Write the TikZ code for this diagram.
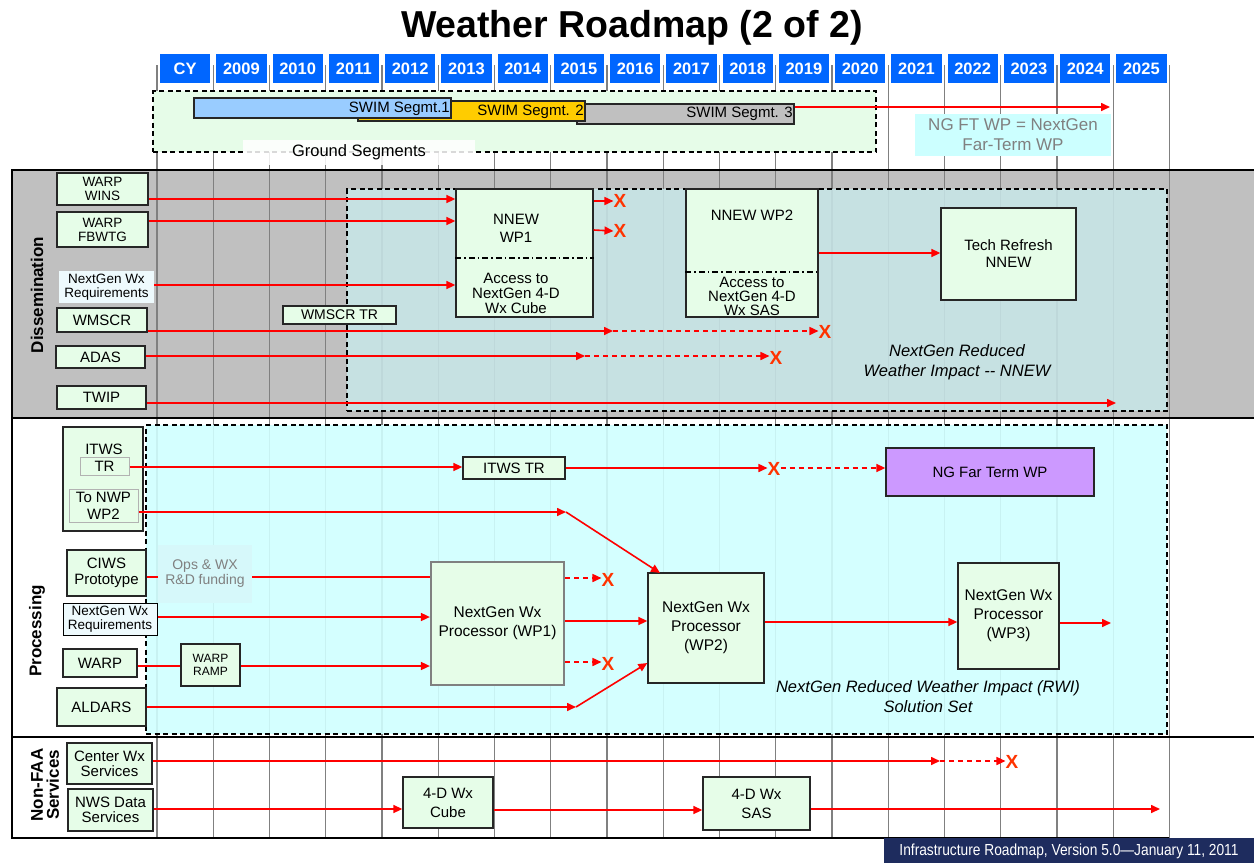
\documentclass[tikz,border=0pt]{standalone}
\usepackage{fontspec}
\setmainfont{Liberation Sans}
\newfontfamily\narrowfont[FakeStretch=0.86]{Liberation Sans}
\usetikzlibrary{arrows.meta}
\definecolor{hdrblue}{RGB}{0,102,255}
\definecolor{bandgray}{RGB}{192,192,192}
\definecolor{gridgray}{RGB}{128,128,128}
\definecolor{boxgreen}{RGB}{230,253,232}
\definecolor{swimgreen}{RGB}{230,252,232}
\definecolor{reqwhite}{RGB}{238,250,253}
\definecolor{segblue}{RGB}{153,204,255}
\definecolor{segyellow}{RGB}{255,204,0}
\definecolor{seggray}{RGB}{192,192,192}
\definecolor{notecyan}{RGB}{204,255,255}
\definecolor{nnewteal}{RGB}{200,230,232}
\definecolor{proccyan}{RGB}{208,255,255}
\definecolor{opscyan}{RGB}{214,248,250}
\definecolor{farpurple}{RGB}{204,153,255}
\definecolor{navy}{RGB}{30,44,94}
\definecolor{arrred}{RGB}{255,0,0}
\definecolor{xred}{RGB}{255,51,0}
\definecolor{textgray}{RGB}{128,128,128}
\newcommand{\rbox}[7][]{\node[#1, minimum width={(#4-#2)*1pt}, minimum height={(#5-#3)*1pt}] (#6) at ({(#2+#4)/2},{(#3+#5)/2}) {#7};}
\begin{document}
\begin{tikzpicture}[x=1pt,y=-1pt,
  gbox/.style={draw=black!85, line width=1.3pt, fill=boxgreen, inner sep=1pt, align=center, font=\fontsize{15}{16}\selectfont},
  fsmall/.style={font=\fontsize{13.5}{13.5}\selectfont},
  fmid/.style={font=\fontsize{15}{16}\selectfont, align=center},
  hdr/.style={fill=hdrblue, text=white, font=\bfseries\fontsize{16.5}{16.5}\selectfont, inner sep=0},
  arr/.style={draw=arrred, line width=1.6pt, -{Triangle[length=9pt,width=8pt]}},
  darr/.style={arr, dash pattern=on 5pt off 4pt},
  redline/.style={draw=arrred, line width=1.6pt},
  xm/.style={text=xred, font=\bfseries\fontsize{19}{19}\selectfont, inner sep=0},
  itl/.style={font=\itshape\fontsize{16.5}{20}\selectfont, align=center},
  sect/.style={rotate=90, font=\bfseries\fontsize{17}{16}\selectfont, align=center},
  gridline/.style={draw=gridgray, line width=1.3pt},
  dashbox/.style={draw=black, line width=1.3pt, dash pattern=on 5pt off 3.5pt},
  frame/.style={draw=black, line width=2pt},
  divider/.style={draw=black, line width=1.2pt, dash pattern=on 6pt off 3pt on 1.5pt off 3pt}
]
\useasboundingbox (0,0) rectangle (1254,863);
\fill[white] (0,0) rectangle (1254,863);

% title
\node[font=\bfseries\fontsize{37.5}{37.5}\selectfont] (title) at (632,28) {Weather Roadmap (2 of 2)};

% dissemination band
\fill[bandgray] (12,170) rectangle (1254,418);

% grid lines
\foreach \k in {0,...,18} {
  \draw[gridline] ({157+56.25*\k},65) -- ({157+56.25*\k},838);
}

% header
\foreach \lab [count=\k from 0] in {CY,2009,2010,2011,2012,2013,2014,2015,2016,2017,2018,2019,2020,2021,2022,2023,2024,2025} {
  \node[hdr, minimum width=50.25pt, minimum height=29pt] (hd\k) at ({157+56.25*\k+28.125},68.5) {\lab};
}

% SWIM area
\rbox[dashbox, fill=swimgreen]{153}{91}{876}{152}{swimbox}{}
\rbox[draw=black!85, line width=1.2pt, fill=seggray]{577}{104}{794}{124}{seg3}{}
\node[anchor=east, font=\fontsize{15}{15}\selectfont, inner sep=1pt] (seg3t) at (794,114) {SWIM Segmt. 3};
\rbox[draw=black!85, line width=1.2pt, fill=segyellow]{358}{101}{585}{121}{seg2}{}
\node[anchor=east, font=\fontsize{15}{15}\selectfont, inner sep=1pt] (seg2t) at (585,111.5) {SWIM Segmt. 2};
\rbox[draw=black!85, line width=1.2pt, fill=segblue]{194}{98}{451}{118}{seg1}{}
\node[anchor=east, font=\fontsize{15}{15}\selectfont, inner sep=1pt] (seg1t) at (451,108.5) {SWIM Segmt.1};
\coordinate (sw1) at (1110,107);
\draw[arr] (seg3.east |- 0,107) -- (sw1);
\rbox[fill=white, fill opacity=0.85, text opacity=1, font=\fontsize{16.5}{16.5}\selectfont]{243}{140}{475}{165}{gseg}{Ground Segments}
\rbox[fill=notecyan, text=textgray, align=center, font=\fontsize{17}{20}\selectfont, inner sep=0]{915}{114}{1111}{156}{ngnote}{NG FT WP = NextGen\\Far-Term WP}

% NNEW and processing regions
\rbox[dashbox, fill=nnewteal, fill opacity=0.87]{347}{189}{1167}{411}{nnewbox}{}
\rbox[dashbox, fill=proccyan, fill opacity=0.9]{146}{425}{1167}{734}{procbox}{}

% frame lines
\draw[frame] (12,170) -- (1254,170);
\draw[frame] (12,418) -- (1254,418);
\draw[frame] (12,737) -- (1254,737);
\draw[frame] (12,838) -- (1169,838);
\draw[frame] (12,169) -- (12,839);

% section labels
\node[sect] (lbldiss) at (37,295) {Dissemination};
\node[sect] (lblproc) at (37,631) {Processing};
\node[sect] (lblnon) at (45,785) {Non-FAA\\Services};

% ---------- Dissemination ----------
\rbox[gbox, fsmall, align=center]{57}{173}{148}{205}{wins}{WARP\\WINS}
\rbox[gbox, font=\fontsize{13.5}{14}\selectfont]{57}{212}{148}{247}{fbwtg}{WARP\\FBWTG}
\rbox[fill=reqwhite, inner sep=0, align=center, font=\fontsize{13.5}{13.5}\selectfont]{59}{271}{154}{303}{req1}{NextGen Wx\\Requirements}
\rbox[gbox]{57}{308}{147}{332}{wmscr}{WMSCR}
\rbox[gbox]{56}{346}{145}{368}{adas}{ADAS}
\rbox[gbox]{57}{386}{146}{409}{twip}{TWIP}
\rbox[gbox, line width=1.1pt, font=\fontsize{14}{14}\selectfont]{283}{306}{396}{324}{wmscrtr}{WMSCR TR}

\rbox[gbox]{456}{189}{593}{317}{wp1}{}
\draw[divider] (wp1.west |- 0,258) -- (wp1.east |- 0,258);
\node[fmid, font=\fontsize{15}{18}\selectfont] (wp1top) at (516,228) {NNEW\\WP1};
\node[fmid, font=\fontsize{15}{15}\selectfont] (wp1bot) at (516,293) {Access to\\NextGen 4-D\\Wx Cube};

\rbox[gbox]{686}{189}{818}{317}{wp2}{}
\draw[divider] (wp2.west |- 0,272) -- (wp2.east |- 0,272);
\node[fmid] (wp2top) at (752,215) {NNEW WP2};
\node[fmid, font=\fontsize{15}{14}\selectfont] (wp2bot) at (752,296) {Access to\\NextGen 4-D\\Wx SAS};

\rbox[gbox, font=\fontsize{15}{17}\selectfont]{941}{208}{1076}{300}{tech}{Tech Refresh\\NNEW}
\node[itl] (nnewlbl) at (957,362) {NextGen Reduced\\Weather Impact -{}- NNEW};

\node[xm] (xa) at (620,201) {X};
\node[xm] (xb) at (620,231) {X};
\node[xm] (xc) at (825,332) {X};
\node[xm] (xd) at (776,358) {X};
\coordinate (m1) at (613,331);
\coordinate (a1) at (585,356);
\coordinate (t1) at (1116,403);

\draw[arr] (wins.east |- 0,199) -- (wp1.west |- 0,199);
\draw[arr] (fbwtg.east |- 0,221) -- (wp1.west |- 0,221);
\draw[arr] (req1.east |- 0,285) -- (wp1.west |- 0,285);
\draw[arr] (wp1.east |- 0,201) -- (xa.west);
\draw[arr] (wp1.east |- 0,230) -- (xb.west);
\draw[arr] (wmscr.east |- 0,331) -- (m1);
\draw[darr] (m1) -- (xc.west |- m1);
\draw[arr] (adas.east |- 0,356) -- (a1);
\draw[darr] (a1) -- (xd.west |- a1);
\draw[arr] (twip.east |- 0,403) -- (t1);
\draw[arr] (wp2.east |- 0,253) -- (tech.west |- 0,253);

% ---------- Processing ----------
\rbox[gbox]{63}{427}{143}{531}{itws}{}
\node[fmid] (itwslbl) at (104,449) {ITWS};
\rbox[gbox, draw=black!30, line width=1pt]{80}{457}{129}{475}{tr}{TR}
\rbox[gbox, draw=black!30, line width=1pt, font=\fontsize{15}{17}\selectfont]{69}{489}{138}{522}{nwp}{To NWP\\WP2}
\rbox[gbox]{67}{550}{146}{596}{ciws}{CIWS\\Prototype}
\rbox[fill=opscyan, text=textgray, inner sep=0, align=center, font=\fontsize{14}{15}\selectfont]{158}{545}{252}{603}{ops}{Ops \& WX\\R\&D funding}
\rbox[draw=black, line width=1pt, fill=reqwhite, inner sep=0, align=center, font=\fontsize{13.5}{13.5}\selectfont]{63}{603}{157}{635}{req2}{NextGen Wx\\Requirements}
\rbox[gbox]{63}{649}{137}{677}{warp}{WARP}
\rbox[gbox, font=\fontsize{12}{13}\selectfont]{181}{644}{240}{686}{ramp}{WARP\\RAMP}
\rbox[gbox]{57}{688}{146}{726}{aldars}{ALDARS}
\rbox[gbox]{463}{457}{565}{479}{itwstr}{ITWS TR}
\rbox[gbox, fill=farpurple]{886}{448}{1094}{496}{farterm}{NG Far Term WP}
\rbox[gbox, draw=gridgray, line width=2.2pt, font=\fontsize{15.5}{19}\selectfont]{431}{562}{564}{685}{wp1p}{NextGen Wx\\Processor (WP1)}
\rbox[gbox, font=\fontsize{15.5}{19}\selectfont]{648}{573}{764}{683}{wp2p}{NextGen Wx\\Processor\\(WP2)}
\rbox[gbox, font=\fontsize{15.5}{19}\selectfont]{958}{563}{1059}{669}{wp3p}{NextGen Wx\\Processor\\(WP3)}
\node[itl] (rwilbl) at (928,697) {NextGen Reduced Weather Impact (RWI)\\Solution Set};

\node[xm] (xe) at (774,469) {X};
\node[xm] (xf) at (608,580) {X};
\node[xm] (xg) at (608,664) {X};
\coordinate (n1) at (566,512);
\coordinate (n2) at (660,573);
\coordinate (l1) at (576,707);
\coordinate (w3) at (1111,623);

\draw[arr] (tr.east |- 0,467) -- (itwstr.west |- 0,467);
\draw[arr] (itwstr.east |- 0,468) -- (xe.west |- 0,468);
\draw[darr] (xe.east |- 0,468) -- (farterm.west |- 0,468);
\draw[arr] (nwp.east |- 0,512) -- (n1);
\draw[arr] (n1) -- (n2);
\draw[redline] (ciws.east |- 0,577) -- (ops.west |- 0,577);
\draw[redline] (ops.east |- 0,577) -- (wp1p.west |- 0,577);
\draw[arr] (req2.east |- 0,617) -- (wp1p.west |- 0,617);
\draw[redline] (warp.east |- 0,666) -- (ramp.west |- 0,666);
\draw[arr] (ramp.east |- 0,666) -- (wp1p.west |- 0,666);
\draw[arr] (aldars.east |- 0,707) -- (l1);
\draw[arr] (l1) -- (wp2p.west |- 0,663);
\draw[darr] (wp1p.east |- 0,578) -- (xf.west |- 0,578);
\draw[darr] (wp1p.east |- 0,662) -- (xg.west |- 0,662);
\draw[arr] (wp1p.east |- 0,621) -- (wp2p.west |- 0,621);
\draw[arr] (wp2p.east |- 0,622) -- (wp3p.west |- 0,622);
\draw[arr] (wp3p.east |- 0,623) -- (w3);

% ---------- Non-FAA ----------
\rbox[gbox, font=\fontsize{15}{15}\selectfont]{67}{743}{152}{784}{center}{Center Wx\\Services}
\rbox[gbox, font=\fontsize{15}{15}\selectfont]{68}{789}{153}{831}{nws}{NWS Data\\Services}
\rbox[gbox, font=\fontsize{15}{19}\selectfont]{403}{777}{493}{828}{cube}{4-D Wx\\Cube}
\rbox[gbox, font=\fontsize{15}{19}\selectfont]{703}{777}{810}{830}{sas}{4-D Wx\\SAS}
\node[xm] (xh) at (1012,762) {X};
\coordinate (c1) at (940,761);
\coordinate (s1) at (1160,809);
\draw[arr] (center.east |- 0,761) -- (c1);
\draw[darr] (c1) -- (xh.west |- c1);
\draw[arr] (nws.east |- 0,809) -- (cube.west |- 0,809);
\draw[arr] (cube.east |- 0,810) -- (sas.west |- 0,810);
\draw[arr] (sas.east |- 0,809) -- (s1);

% footer
\rbox[fill=navy, inner sep=0]{884}{838}{1254}{863}{footer}{}
\node[text=white, font=\narrowfont\fontsize{16}{16}\selectfont] (foottxt) at (1069,851) {Infrastructure Roadmap, Version 5.0—January 11, 2011};
\end{tikzpicture}
\end{document}
